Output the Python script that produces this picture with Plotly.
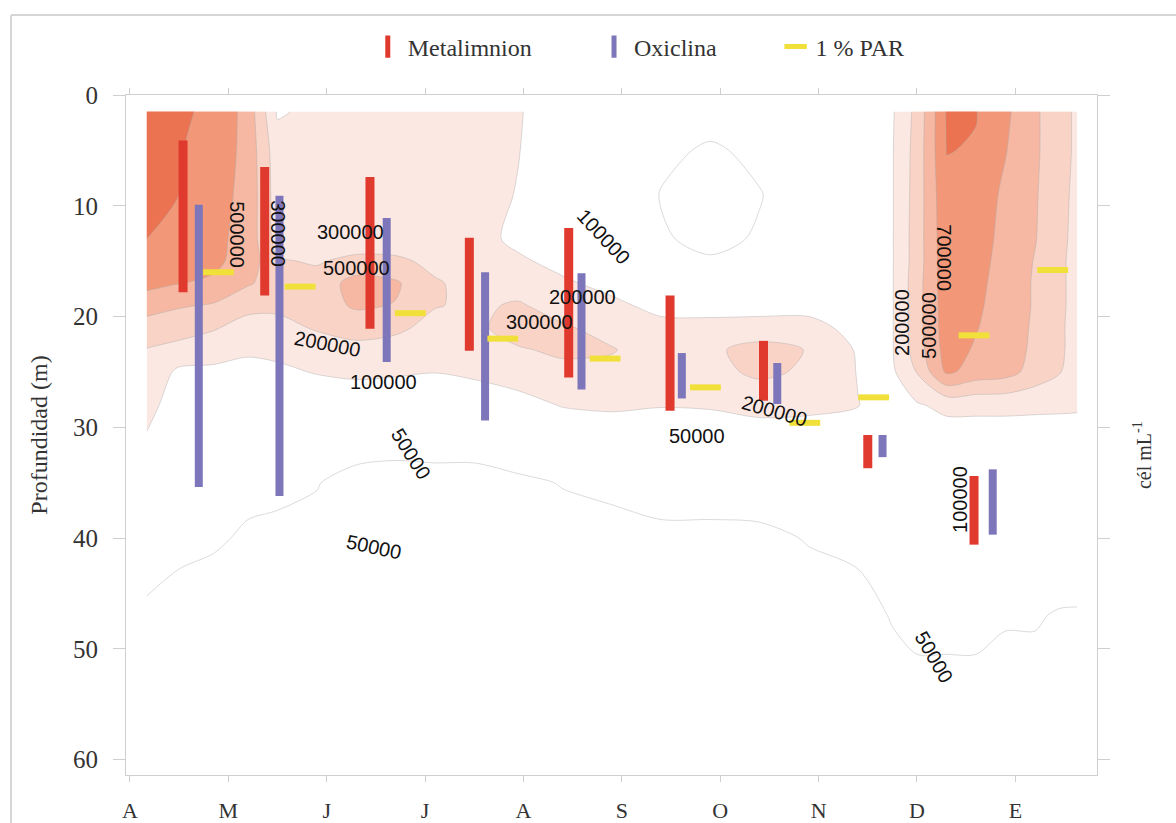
import numpy as np
import plotly.graph_objects as go

# ---------------- data ----------------
months = ['A', 'M', 'J', 'J', 'A', 'S', 'O', 'N', 'D', 'E']
month_pos = list(range(10))
depth_ticks = [0, 10, 20, 30, 40, 50, 60]

# sampling grid for the cell-density section (x: month index, depth in m)
grid_x = [0.17, 0.5, 0.85, 1.2, 1.5, 1.9, 2.3, 2.7, 3.1, 3.5, 3.95, 4.4, 4.9,
          5.4, 5.9, 6.4, 6.9, 7.4, 7.75, 8.0, 8.3, 8.6, 8.9, 9.2, 9.45, 9.63]
grid_depth = [1.5, 5, 9, 13, 15, 17, 19, 21, 23, 25, 28, 31, 35, 40, 47, 54, 61]

# cell density (10^3 cel/mL), one profile per grid_x column (values at grid_depth)
profiles = [
    [820, 810, 790, 700, 640, 560, 380, 260, 195, 175, 140, 95, 70, 56, 48, 46, 45],
    [800, 760, 700, 630, 590, 505, 320, 240, 170, 90, 68, 62, 56, 52, 47, 45, 45],
    [680, 640, 580, 550, 540, 470, 290, 210, 140, 90, 68, 60, 54, 51, 46, 45, 44],
    [420, 430, 440, 430, 420, 320, 230, 160, 115, 85, 66, 58, 52, 49, 46, 45, 44],
    [95, 140, 150, 160, 210, 260, 220, 170, 120, 92, 68, 58, 52, 48, 46, 45, 44],
    [120, 150, 155, 160, 190, 240, 250, 210, 150, 105, 70, 58, 50.5, 47, 46, 45, 44],
    [130, 150, 150, 130, 230, 380, 330, 240, 170, 115, 75, 56, 46, 45, 46, 46, 45],
    [135, 145, 150, 140, 220, 330, 295, 220, 160, 110, 72, 55, 45, 44, 45, 46, 46],
    [135, 140, 145, 145, 175, 210, 205, 170, 140, 102, 70, 55, 46, 45, 46, 46, 46],
    [125, 130, 130, 125, 140, 170, 185, 175, 150, 115, 75, 55, 46, 45, 46, 46, 46],
    [105, 102, 98, 92, 110, 160, 210, 250, 190, 140, 85, 58, 48, 45, 46, 46, 46],
    [80, 75, 80, 85, 90, 110, 160, 210, 220, 170, 105, 65, 50.5, 46, 46, 46, 46],
    [70, 68, 70, 75, 82, 90, 115, 170, 205, 180, 115, 70, 52, 47, 46, 46, 46],
    [65, 55, 49, 52, 70, 78, 90, 120, 160, 150, 105, 68, 54, 48, 46, 46, 46],
    [60, 47, 42, 45, 52, 75, 88, 120, 180, 170, 110, 68, 54, 48, 46, 46, 46],
    [75, 55, 49, 52, 65, 75, 85, 130, 240, 220, 130, 75, 55, 48, 46, 46, 46],
    [72, 65, 62, 62, 66, 72, 85, 130, 195, 185, 120, 78, 56, 50.5, 46, 46, 46],
    [70, 65, 65, 65, 68, 72, 78, 85, 95, 98, 102, 85, 62, 52, 47, 46, 46],
    [95, 97, 97, 97, 97, 97, 97, 97, 97, 92, 85, 90, 75, 60, 50.5, 47, 46],
    [230, 240, 245, 250, 250, 260, 260, 260, 250, 205, 95, 80, 72, 62, 52, 48, 46],
    [790, 730, 660, 640, 630, 620, 610, 600, 580, 540, 125, 75, 70, 62, 52, 48, 46],
    [740, 690, 620, 590, 570, 550, 530, 510, 480, 420, 125, 75, 68, 60, 52, 48, 46],
    [540, 510, 460, 440, 430, 420, 420, 410, 400, 380, 125, 75, 65, 58, 50.5, 48, 46],
    [330, 330, 320, 310, 295, 290, 290, 285, 280, 260, 122, 73, 62, 56, 50.5, 48, 46],
    [240, 240, 230, 225, 220, 220, 220, 215, 215, 205, 120, 72, 60, 55, 49.5, 48, 46],
    [180, 180, 175, 170, 165, 165, 165, 165, 165, 160, 118, 70, 58, 54, 49.5, 47, 46],
]

# contour levels (10^3 cel/mL)
density_levels = [0, 50, 100, 200, 300, 500, 700, 2000]
band_colors = ['#ffffff', '#ffffff', '#fce8e2', '#f9d3c6', '#f6b8a2', '#f29878', '#ec7352']

# Metalimnion (red bars): month index, top and bottom depth (m)
met_x = [0.54, 1.37, 2.44, 3.45, 4.46, 5.49, 6.44, 7.50, 8.58]
met_top = [4.1, 6.5, 7.4, 12.9, 12.0, 18.1, 22.2, 30.7, 34.4]
met_bot = [17.8, 18.1, 21.1, 23.1, 25.5, 28.5, 27.6, 33.7, 40.6]
# Oxiclina (blue bars)
oxi_x = [0.70, 1.52, 2.61, 3.61, 4.59, 5.61, 6.58, 7.65, 8.77]
oxi_top = [9.9, 9.1, 11.1, 16.0, 16.1, 23.3, 24.2, 30.7, 33.8]
oxi_bot = [35.4, 36.2, 24.1, 29.4, 26.6, 27.4, 27.9, 32.7, 39.7]
# 1 % PAR depth
par_x = [0.90, 1.73, 2.85, 3.79, 4.83, 5.85, 6.86, 7.56, 8.58, 9.38]
par_depth = [16.0, 17.3, 19.7, 22.0, 23.8, 26.4, 29.6, 27.3, 21.7, 15.8]

# contour labels: text, month index, depth, angle
label_text = ['500000', '300000', '300000', '500000', '200000', '100000', '50000', '50000',
              '300000', '200000', '100000', '50000', '200000', '200000', '500000', '700000',
              '100000', '50000']
label_x = [1.087, 1.504, 2.246, 2.307, 2.012, 2.581, 2.856, 2.480,
           4.167, 4.604, 4.817, 5.762, 6.555, 7.846, 8.120, 8.272, 8.435, 8.171]
label_y = [12.65, 12.56, 12.38, 15.63, 22.49, 25.93, 32.43, 40.83,
           20.51, 18.25, 12.83, 30.80, 28.55, 20.51, 20.78, 14.72, 36.50, 50.77]
label_angle = [90, 90, 0, 0, 11, 0, 58, 12, 0, 0, 47, 0, 16, -90, -90, 90, -90, 60]

RED = '#e0392d'
BLUE = '#7d76ba'
YELLOW = '#f1e03a'
SERIF = 'Liberation Serif, Times New Roman, serif'
SANS = 'Liberation Sans, Arial, sans-serif'

# ---------------- figure ----------------
z = np.array(profiles, dtype=float).T
z_idx = np.interp(z, density_levels, list(range(len(density_levels))))
n_bands = len(band_colors)
colorscale = [[i / (n_bands - 1), c] for i, c in enumerate(band_colors)]

fig = go.Figure()
fig.add_trace(go.Contour(
    x=grid_x, y=grid_depth, z=z_idx,
    autocontour=False,
    contours=dict(start=1, end=6, size=1, coloring='fill', showlines=True, showlabels=False),
    colorscale=colorscale, showscale=False,
    line=dict(color='rgba(170,170,170,0.42)', width=1, smoothing=0.85),
    hoverinfo='skip', showlegend=False,
))


def segments(xs, tops, bots):
    sx, sy = [], []
    for x, t, b in zip(xs, tops, bots):
        sx += [x, x, None]
        sy += [t, b, None]
    return sx, sy


mx, my = segments(met_x, met_top, met_bot)
fig.add_trace(go.Scatter(x=mx, y=my, mode='lines', line=dict(color=RED, width=9),
                         showlegend=False, hoverinfo='skip'))
ox, oy = segments(oxi_x, oxi_top, oxi_bot)
fig.add_trace(go.Scatter(x=ox, y=oy, mode='lines', line=dict(color=BLUE, width=8),
                         showlegend=False, hoverinfo='skip'))
fig.add_trace(go.Scatter(x=par_x, y=par_depth, mode='markers', name='1 % PAR',
                         marker=dict(symbol='line-ew', size=22, color=YELLOW,
                                     line=dict(color=YELLOW, width=6)),
                         legend='legend3', hoverinfo='skip'))
# legend entries for the bars
fig.add_trace(go.Scatter(x=[None], y=[None], mode='markers', name='Metalimnion',
                         marker=dict(symbol='line-ns', size=18, color=RED,
                                     line=dict(color=RED, width=6)),
                         legend='legend'))
fig.add_trace(go.Scatter(x=[None], y=[None], mode='markers', name='Oxiclina',
                         marker=dict(symbol='line-ns', size=18, color=BLUE,
                                     line=dict(color=BLUE, width=6)),
                         legend='legend2'))

annotations = []
for t, x, y, a in zip(label_text, label_x, label_y, label_angle):
    annotations.append(dict(x=x, y=y, xref='x', yref='y', text=t, showarrow=False,
                            textangle=a, font=dict(family=SANS, size=20, color='#111')))
annotations.append(dict(x=1.047, y=0.47, xref='paper', yref='paper', xanchor='center',
                        yanchor='middle', text='cél mL<sup>-1</sup>', showarrow=False,
                        textangle=-90, font=dict(family=SERIF, size=20, color='#333')))

leg_common = dict(orientation='h', yanchor='middle', xanchor='left',
                  font=dict(family=SERIF, size=24, color='#333'),
                  bgcolor='rgba(0,0,0,0)', borderwidth=0, itemsizing='trace')

FRAME = '#d6d6d6'
fig.update_layout(
    width=1176, height=823,
    margin=dict(l=126, r=79, t=95, b=48, autoexpand=False),
    paper_bgcolor='white', plot_bgcolor='white',
    font=dict(family=SERIF, color='#333'),
    legend=dict(x=0.249, y=1.0706, **leg_common),
    legend2=dict(x=0.482, y=1.0706, **leg_common),
    legend3=dict(x=0.669, y=1.0706, **leg_common),
    annotations=annotations,
    shapes=[
        dict(type='line', xref='paper', yref='paper', x0=-0.1184, x1=1.09, y0=1.1176, y1=1.1176,
             line=dict(color=FRAME, width=2)),
        dict(type='line', xref='paper', yref='paper', x0=-0.1184, x1=-0.1184, y0=1.1176, y1=-0.08,
             line=dict(color=FRAME, width=2)),
    ],
    xaxis=dict(range=[-0.04, 9.83], tickmode='array', tickvals=month_pos, ticktext=months,
               showgrid=False, zeroline=False, showline=True, linecolor='#cfcfcf', mirror='allticks',
               ticks='outside', ticklen=6, tickcolor='#cfcfcf', automargin=False,
               tickfont=dict(family=SERIF, size=22, color='#333'), ticklabelstandoff=10),
    yaxis=dict(range=[61.4, 0], tickmode='array', tickvals=depth_ticks,
               showgrid=False, zeroline=False, showline=True, linecolor='#cfcfcf', mirror='allticks',
               ticks='outside', ticklen=12, tickcolor='#cfcfcf', automargin=False,
               tickfont=dict(family=SERIF, size=25, color='#333'), ticklabelstandoff=10,
               title=dict(text='Profundidad (m)', font=dict(family=SERIF, size=24, color='#333'),
                          standoff=18)),
)

fig.write_html('out.html')
